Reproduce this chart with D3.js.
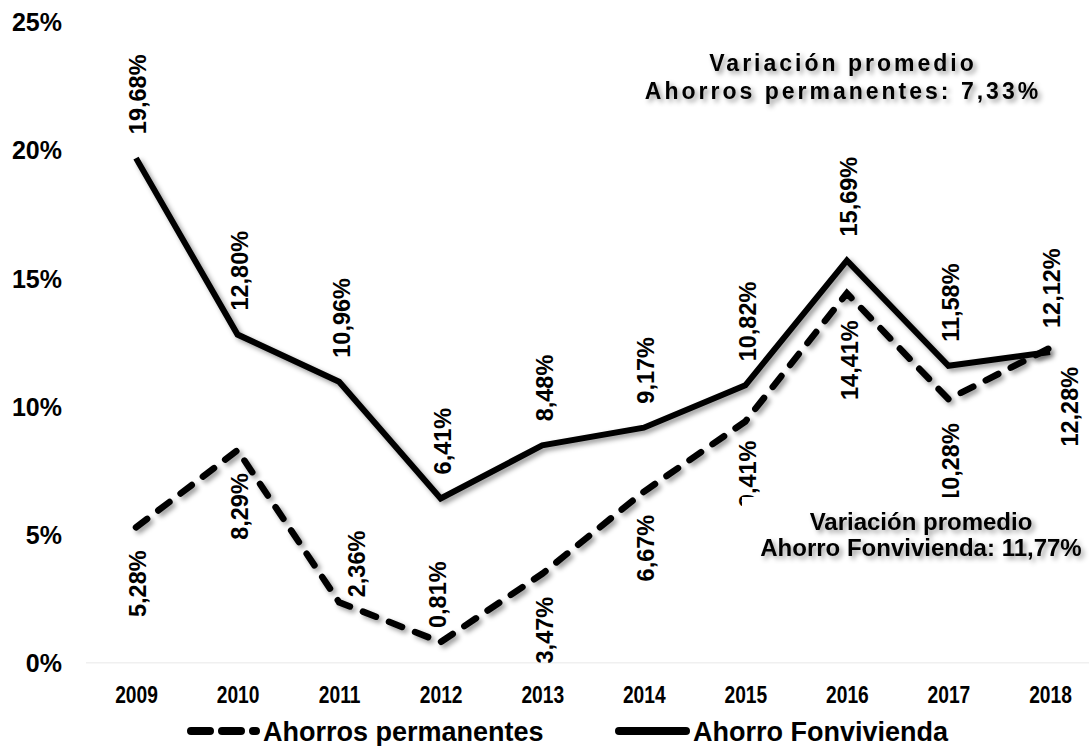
<!DOCTYPE html>
<html>
<head>
<meta charset="utf-8">
<script src="https://cdn.jsdelivr.net/npm/d3@7"></script>
<style>
  body { margin: 0; background: #fff; }
  svg { display: block; }
  .bold { font-family: "Liberation Sans", Arial, sans-serif; font-weight: bold; }
</style>
</head>
<body>
<div id="chart"></div>
<script>
// datos
const years = ['2009', '2010', '2011', '2012', '2013', '2014', '2015', '2016', '2017', '2018'];
const fonvivienda = [19.68, 12.80, 10.96, 6.41, 8.48, 9.17, 10.82, 15.69, 11.58, 12.12];
const permanentes = [5.28, 8.29, 2.36, 0.81, 3.47, 6.67, 9.41, 14.41, 10.28, 12.28];
const yTicks = [0, 5, 10, 15, 20, 25];
const seriesNames = ['Ahorros permanentes', 'Ahorro Fonvivienda'];
const notePermanentes = ['Variación promedio', 'Ahorros permanentes: 7,33%'];
const noteFonvivienda = ['Variación promedio', 'Ahorro Fonvivienda: 11,77%'];

// ubicacion de etiquetas de la serie punteada (desplazamiento respecto al punto)
const permLabelDx = [2, 2, 17, -3, 2, 2, 2, 3, 2, 20];
const permLabelDy = [23, 23, -5, -14, 23, 23, 19, 27, 24, 19];

const W = 1089, H = 746;

const svg = d3.select('#chart').append('svg')
  .attr('width', W)
  .attr('height', H);

const defs = svg.append('defs');
defs.append('filter')
  .attr('id', 'shadow')
  .attr('x', '-20%').attr('y', '-20%').attr('width', '140%').attr('height', '140%')
  .append('feDropShadow')
    .attr('dx', 3).attr('dy', 3)
    .attr('stdDeviation', 2.5)
    .attr('flood-color', '#000')
    .attr('flood-opacity', 0.4);

const x = d3.scalePoint().domain(years).range([136, 1050]);
const y = d3.scaleLinear().domain([0, 25]).range([662.8, 21.7]);

// eje Y
const yAxis = svg.append('g')
  .attr('transform', 'translate(62,0)')
  .call(d3.axisLeft(y).tickValues(yTicks).tickSize(0).tickPadding(0).tickFormat(d => d + '%'));
yAxis.select('.domain').remove();
yAxis.selectAll('text')
  .attr('class', 'bold')
  .style('font-size', '25px')
  .attr('fill', '#000')
  .attr('dy', '0.36em');

// eje X (linea muy tenue); años en letra condensada
const xAxis = svg.append('g')
  .attr('transform', `translate(0,${y(0)})`)
  .call(d3.axisBottom(x).tickSize(0).tickPadding(0));
xAxis.select('.domain')
  .attr('d', `M86,0H${W}`)
  .attr('stroke', '#f0f0f0')
  .attr('stroke-width', 1.5);
xAxis.selectAll('text')
  .attr('class', 'bold')
  .style('font-size', '24px')
  .attr('fill', '#000')
  .attr('y', 0)
  .attr('dy', 0)
  .attr('transform', 'translate(0,40) scale(0.8,1)');

const line = d3.line()
  .x((d, i) => x(years[i]))
  .y(d => y(d));

// lineas
svg.append('path')
  .datum(fonvivienda)
  .attr('d', line)
  .attr('fill', 'none')
  .attr('stroke', '#000')
  .attr('stroke-width', 6)
  .attr('stroke-linejoin', 'miter')
  .attr('filter', 'url(#shadow)');

svg.append('path')
  .datum(permanentes)
  .attr('d', line)
  .attr('fill', 'none')
  .attr('stroke', '#000')
  .attr('stroke-width', 6.5)
  .attr('stroke-linecap', 'round')
  .attr('stroke-dasharray', '14,14')
  .attr('filter', 'url(#shadow)');

const fmt = v => d3.format('.2f')(v).replace('.', ',') + '%';

// etiquetas Fonvivienda (arriba)
svg.append('g').selectAll('text')
  .data(fonvivienda)
  .join('text')
    .attr('class', 'bold')
    .style('font-size', '23.5px')
    .attr('text-anchor', 'start')
    .attr('dy', '0.36em')
    .attr('transform', (d, i) => `translate(${x(years[i]) + 2},${y(d) - 24}) rotate(-90)`)
    .text(d => fmt(d));

// etiquetas Ahorros permanentes
svg.append('g').selectAll('text')
  .data(permanentes)
  .join('text')
    .attr('class', 'bold')
    .style('font-size', '23.5px')
    .attr('text-anchor', (d, i) => permLabelDy[i] > 0 ? 'end' : 'start')
    .attr('dy', '0.36em')
    .attr('transform', (d, i) => `translate(${x(years[i]) + permLabelDx[i]},${y(d) + permLabelDy[i]}) rotate(-90)`)
    .text(d => fmt(d));

// caja de nota inferior (tapa parte de una etiqueta, como en el original)
svg.append('rect')
  .attr('x', 742).attr('y', 497)
  .attr('width', W - 742).attr('height', 67)
  .attr('fill', '#fff');

const noteB = svg.append('text')
  .attr('class', 'bold')
  .style('font-size', '24px')
  .attr('text-anchor', 'middle')
  .attr('filter', 'url(#shadow)');
noteFonvivienda.forEach((t, i) => {
  noteB.append('tspan').attr('x', 921).attr('y', 530 + i * 26).text(t);
});

const noteT = svg.append('text')
  .attr('class', 'bold')
  .style('font-size', '23px')
  .style('letter-spacing', '3px')
  .attr('text-anchor', 'middle')
  .attr('filter', 'url(#shadow)');
notePermanentes.forEach((t, i) => {
  noteT.append('tspan').attr('x', 843).attr('y', 71 + i * 28).text(t);
});

// leyenda
const legend = svg.append('g').attr('transform', 'translate(0,731)');
legend.append('line')
  .attr('x1', 191).attr('x2', 256)
  .attr('stroke', '#000').attr('stroke-width', 8)
  .attr('stroke-linecap', 'round')
  .attr('stroke-dasharray', '19,12');
legend.append('text')
  .attr('class', 'bold')
  .style('font-size', '27px')
  .attr('x', 263).attr('dy', '0.36em')
  .text(seriesNames[0]);
legend.append('line')
  .attr('x1', 619).attr('x2', 686)
  .attr('stroke', '#000').attr('stroke-width', 8)
  .attr('stroke-linecap', 'round');
legend.append('text')
  .attr('class', 'bold')
  .style('font-size', '27px')
  .attr('x', 693).attr('dy', '0.36em')
  .text(seriesNames[1]);
</script>
</body>
</html>
